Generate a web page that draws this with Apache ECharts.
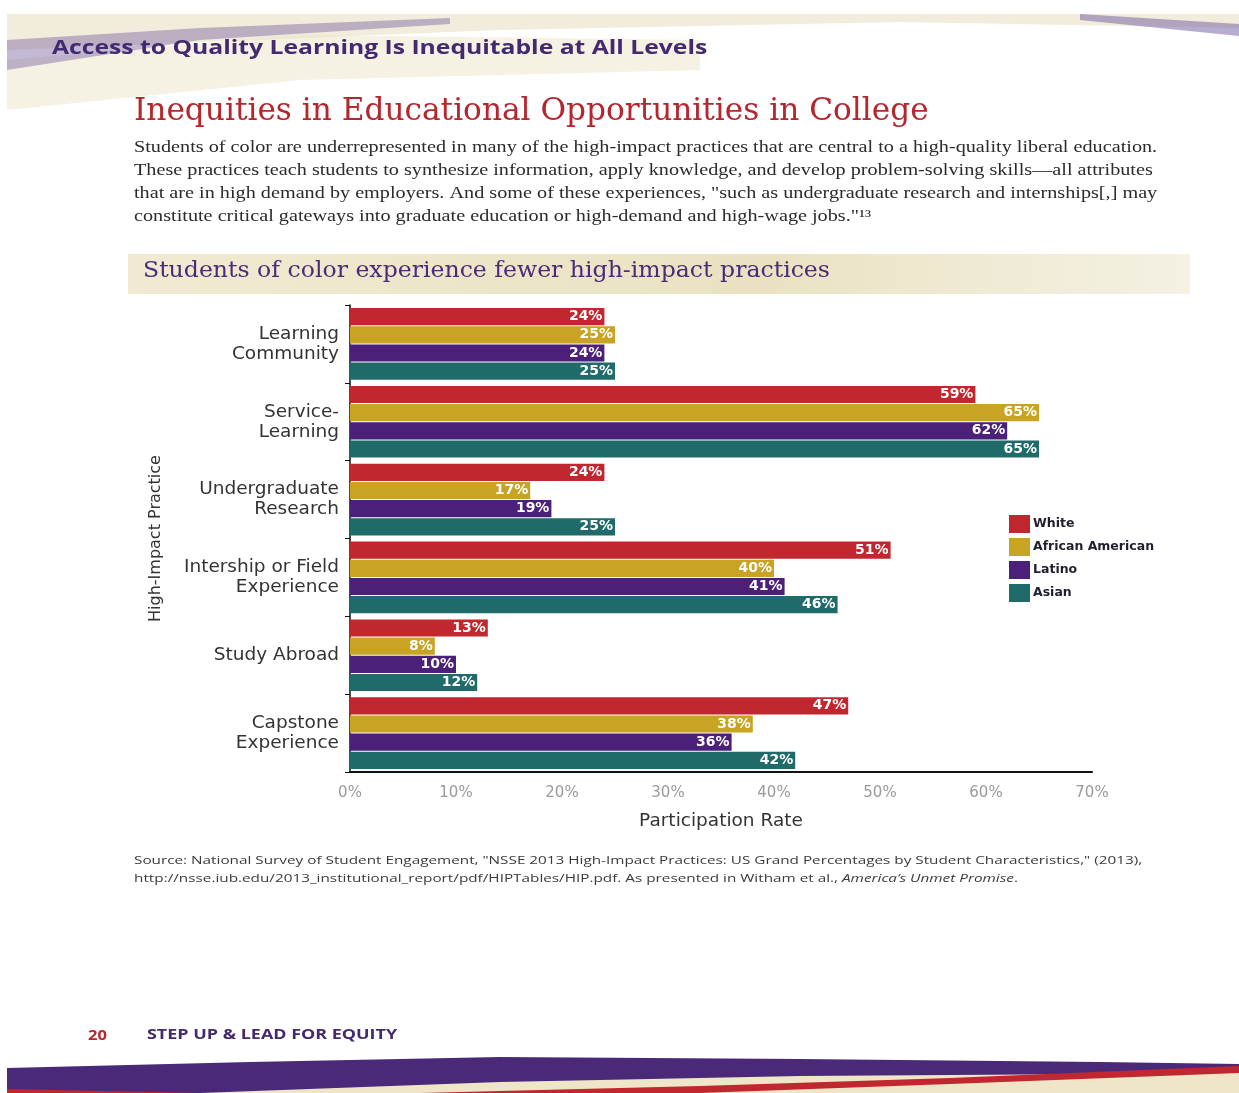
<!DOCTYPE html>
<html>
<head>
<meta charset="utf-8">
<script src="https://cdn.jsdelivr.net/npm/echarts@6/dist/echarts.min.js"></script>
<style>html,body{margin:0;padding:0;background:#fff;}#c{width:1239px;height:1093px;}</style>
</head>
<body>
<div id="c"></div>
<script>
const categories = ['Learning\nCommunity', 'Service-\nLearning', 'Undergraduate\nResearch', 'Intership or Field\nExperience', 'Study Abroad', 'Capstone\nExperience'];
const seriesNames = ['White', 'African American', 'Latino', 'Asian'];
const white = [24, 59, 24, 51, 13, 47];
const africanAmerican = [25, 65, 17, 40, 8, 38];
const latino = [24, 62, 19, 41, 10, 36];
const asian = [25, 65, 25, 46, 12, 42];
const xTicks = [0, 10, 20, 30, 40, 50, 60, 70];

const colors = ['#c1272f', '#c9a323', '#4b2079', '#1f6b69'];
const values = [white, africanAmerican, latino, asian];

const chart = echarts.init(document.getElementById('c'), null, {renderer: 'canvas'});
const sans = '"DejaVu Sans", sans-serif';

function txt(x, y, text, font, fill, sx, extra) {
  return Object.assign({type: 'text', x: x, y: y, scaleX: sx || 1, originX: 0, originY: 0,
    style: Object.assign({text: text, font: font, fill: fill, verticalAlign: 'top', align: 'left'}, extra || {})});
}

const option = {
  backgroundColor: '#ffffff',
  animation: false,
  grid: {left: 350, right: 147, top: 305, bottom: 321, containLabel: false},
  legend: {
    orient: 'vertical', left: 1004, top: 510, itemWidth: 21, itemHeight: 18, itemGap: 5,
    icon: 'rect', data: seriesNames,
    textStyle: {fontFamily: sans, fontWeight: 'bold', fontSize: 12.5, color: '#1f1f2e', padding: [0, 0, 0, -2]}
  },
  xAxis: {
    type: 'value', min: xTicks[0], max: xTicks[xTicks.length - 1], interval: 10,
    name: 'Participation Rate', nameLocation: 'middle', nameGap: 40,
    nameTextStyle: {fontFamily: sans, fontSize: 18.5, color: '#333'},
    axisLine: {show: true, lineStyle: {color: '#111', width: 2}},
    axisTick: {show: false},
    splitLine: {show: false},
    axisLabel: {formatter: '{value}%', fontFamily: sans, fontSize: 15, color: '#9a9a9a', margin: 14}
  },
  yAxis: {
    type: 'category', data: categories, inverse: true,
    name: 'High-Impact Practice', nameLocation: 'middle', nameGap: 186, nameRotate: 90,
    nameTextStyle: {fontFamily: sans, fontSize: 16, color: '#333'},
    axisLine: {show: true, lineStyle: {color: '#111', width: 1.5}},
    axisTick: {show: true, inside: false, length: 5, lineStyle: {color: '#111'}},
    axisLabel: {fontFamily: sans, fontSize: 18.5, color: '#333', lineHeight: 20, margin: 11, align: 'right'}
  },
  series: seriesNames.map((n, i) => ({
    name: n, type: 'bar', data: values[i],
    barCategoryGap: '8%', barGap: '6%',
    itemStyle: {color: colors[i]},
    label: {show: true, position: 'insideRight', formatter: '{c}%', distance: 2,
      fontFamily: sans, fontWeight: 'bold', fontSize: 14, color: '#ffffff'}
  })),
  graphic: [
    // top decorative brush band
    {type: 'polygon', silent: true, z: -10, shape: {points: [[7,14],[1239,14],[1239,28],[900,22],[500,30],[7,50]]},
      style: {fill: 'rgba(230,220,190,0.55)'}},
    {type: 'polygon', silent: true, z: -9, shape: {points: [[7,40],[200,28],[450,18],[450,24],[200,40],[7,70]]},
      style: {fill: 'rgba(120,100,160,0.45)'}},
    {type: 'polygon', silent: true, z: -9, shape: {points: [[1080,14],[1239,24],[1239,36],[1080,20]]},
      style: {fill: 'rgba(110,90,160,0.5)'}},
    {type: 'polygon', silent: true, z: -10, shape: {points: [[7,60],[300,35],[700,40],[700,70],[300,80],[7,110]]},
      style: {fill: 'rgba(235,228,200,0.5)'}},
    // subtitle band
    {type: 'rect', silent: true, z: -5, shape: {x: 128, y: 254, width: 1062, height: 40},
      style: {fill: {type: 'linear', x: 0, y: 0, x2: 1, y2: 0, colorStops: [
        {offset: 0, color: 'rgba(238,232,205,0.9)'}, {offset: 0.6, color: 'rgba(232,224,190,0.95)'}, {offset: 1, color: 'rgba(240,235,215,0.7)'}]}}},
    // texts
    txt(52, 38, 'Access to Quality Learning Is Inequitable at All Levels', 'bold 20px "Open Sans", sans-serif', '#43296f', 1.235),
    txt(134, 96, 'Inequities in Educational Opportunities in College', '31px "DejaVu Serif", serif', '#b5262f', 1.006),
    txt(134, 136,
      'Students of color are underrepresented in many of the high-impact practices that are central to a high-quality liberal education.\nThese practices teach students to synthesize information, apply knowledge, and develop problem-solving skills\u2014all attributes\nthat are in high demand by employers. And some of these experiences, "such as undergraduate research and internships[,] may\nconstitute critical gateways into graduate education or high-demand and high-wage jobs."\u00b9\u00b3',
      '16.5px "Liberation Serif", serif', '#2b2b2b', 1.225, {lineHeight: 23}),
    txt(143, 260, 'Students of color experience fewer high-impact practices', '23px "DejaVu Serif", serif', '#4a2b78', 1.025),
    {type: 'text', x: 134, y: 852, scaleX: 1.39, originX: 0, originY: 0, style: {
      verticalAlign: 'top', align: 'left',
      rich: {n: {font: '11px "Open Sans", sans-serif', fill: '#3a3a3a', lineHeight: 18},
             i: {font: 'italic 11px "Open Sans", sans-serif', fill: '#3a3a3a', lineHeight: 18}},
      text: '{n|Source: National Survey of Student Engagement, "NSSE 2013 High-Impact Practices: US Grand Percentages by Student Characteristics," (2013),}\n{n|http://nsse.iub.edu/2013_institutional_report/pdf/HIPTables/HIP.pdf. As presented in Witham et al., }{i|America\u2019s Unmet Promise}{n|.}'}},
    txt(88, 1028, '20', 'bold 15px "Open Sans", sans-serif', '#b5262f', 1.1),
    txt(147, 1028, 'STEP UP & LEAD FOR EQUITY', 'bold 14px "Open Sans", sans-serif', '#43296f', 1.28),
    // bottom waves
    {type: 'polygon', silent: true, z: -8, shape: {points: [[7,1068],[250,1062],[500,1057],[800,1059],[1100,1062],[1239,1064],[1239,1093],[7,1093]]},
      style: {fill: '#4a2a78'}},
    {type: 'polygon', silent: true, z: -7, shape: {points: [[200,1093],[500,1082],[800,1076],[1100,1074],[1239,1072],[1239,1093]]},
      style: {fill: '#efe6c8'}},
    {type: 'polygon', silent: true, z: -6, shape: {points: [[420,1093],[700,1086],[950,1078],[1239,1066],[1239,1073],[950,1084],[700,1093]]},
      style: {fill: '#c1272f'}},
    {type: 'polygon', silent: true, z: -6, shape: {points: [[7,1089],[200,1093],[7,1093]]},
      style: {fill: '#c1272f'}}
  ]
};
chart.setOption(option);
</script>
</body>
</html>
